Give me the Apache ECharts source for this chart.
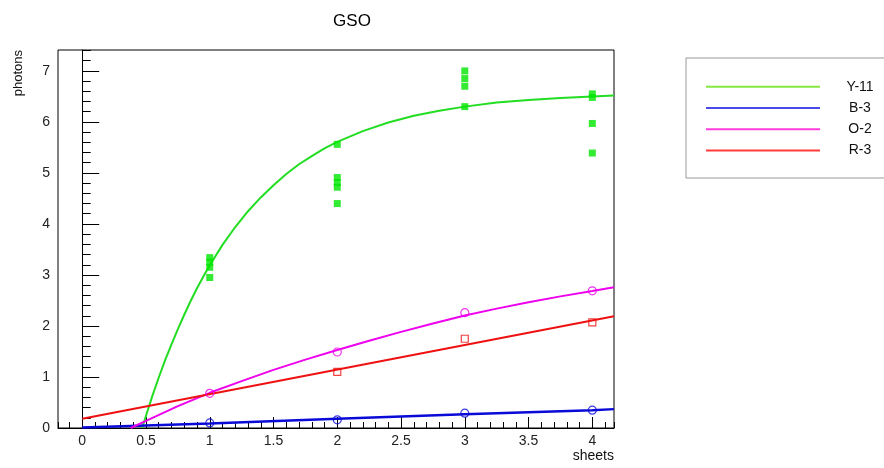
<!DOCTYPE html>
<html><head><meta charset="utf-8">
<script src="https://cdn.jsdelivr.net/npm/echarts@6/dist/echarts.min.js"></script>
<style>html,body{margin:0;padding:0;background:#fff}#c{width:884px;height:468px}</style>
</head><body><div id="c"></div>
<script>
// ---- data ----
const legendNames = ['Y-11', 'B-3', 'O-2', 'R-3'];
// fitted curves
const y11CurveX = [0.47, 0.5, 0.55, 0.6, 0.65, 0.7, 0.75, 0.8, 0.85, 0.9, 0.95, 1.0, 1.1, 1.2, 1.3, 1.4, 1.5, 1.6, 1.7, 1.8, 1.9, 2.0, 2.2, 2.4, 2.6, 2.8, 3.0, 3.25, 3.5, 3.75, 4.0, 4.17];
const y11CurveY = [0, 0.24, 0.63, 0.99, 1.33, 1.64, 1.94, 2.22, 2.49, 2.74, 2.97, 3.19, 3.59, 3.94, 4.25, 4.52, 4.76, 4.98, 5.17, 5.33, 5.48, 5.61, 5.82, 5.99, 6.12, 6.22, 6.30, 6.38, 6.43, 6.47, 6.50, 6.52];
const b3CurveX = [0, 1, 2, 3, 4, 4.17];
const b3CurveY = [0.01, 0.09, 0.18, 0.27, 0.35, 0.37];
const o2CurveX = [0.38, 0.5, 0.75, 1, 1.25, 1.5, 1.75, 2, 2.25, 2.5, 2.75, 3, 3.25, 3.5, 3.75, 4, 4.17];
const o2CurveY = [0, 0.14, 0.43, 0.69, 0.92, 1.14, 1.34, 1.53, 1.71, 1.885, 2.05, 2.205, 2.34, 2.465, 2.58, 2.685, 2.76];
const r3CurveX = [0, 4.17];
const r3CurveY = [0.18, 2.19];
// measured points
const y11PointX = [1, 1, 1, 1, 2, 2, 2, 2, 2, 3, 3, 3, 3, 4, 4, 4, 4];
const y11PointY = [3.34, 3.25, 3.15, 2.95, 5.56, 4.91, 4.81, 4.72, 4.40, 7.00, 6.85, 6.70, 6.30, 6.55, 6.48, 5.97, 5.39];
const b3PointX = [1, 2, 3, 4];
const b3PointY = [0.10, 0.16, 0.29, 0.35];
const o2PointX = [1, 2, 3, 4];
const o2PointY = [0.68, 1.49, 2.26, 2.69];
const r3PointX = [2, 3, 4];
const r3PointY = [1.10, 1.75, 2.07];

const lineColors = ['#22dd22', '#0a0ad8', '#ee00ee', '#ee1111'];
const legendColors = ['#84e840', '#4a4ae6', '#ff3cdc', '#ff3c3c'];
const FONT = 'Liberation Sans';

const zip = (xs, ys) => xs.map((x, i) => [x, ys[i]]);

const chart = echarts.init(document.getElementById('c'), null, { renderer: 'canvas' });

const curve = (name, xs, ys, color, width) => ({
  name, type: 'line', data: zip(xs, ys), showSymbol: false, symbol: 'none',
  smooth: false, color,
  lineStyle: { color, width: width || 2 }, xAxisIndex: 0, yAxisIndex: 0, z: 2, silent: true
});
const pts = (name, xs, ys, symbol, size, color, filled) => ({
  name, type: 'scatter', data: zip(xs, ys), symbol, symbolSize: size,
  itemStyle: filled ? { color } : { color: 'rgba(0,0,0,0)', borderColor: color, borderWidth: 1.2 },
  xAxisIndex: 0, yAxisIndex: 0, z: 3, silent: true
});

chart.setOption({
  animation: false,
  backgroundColor: '#fff',
  title: {
    text: 'GSO', left: 347, top: 8, textAlign: 'center',
    textStyle: { fontFamily: FONT, fontSize: 17, fontWeight: 'normal', color: '#000' }
  },
  grid: { left: 58, right: 270, top: 50, bottom: 40, show: true, borderColor: '#000', borderWidth: 1 },
  xAxis: [
    {
      type: 'value', min: -0.19, max: 4.17, splitNumber: 9, position: 'bottom',
      axisLine: { show: true, lineStyle: { color: '#000', width: 1 } },
      axisTick: { show: true, inside: true, length: 11, lineStyle: { color: '#000' } },
      axisLabel: { show: true, showMinLabel: false, showMaxLabel: false, margin: 6,
        fontFamily: FONT, fontSize: 14, color: '#222' },
      splitLine: { show: false }
    },
    {
      type: 'value', min: -0.19, max: 4.17, splitNumber: 44, position: 'bottom', offset: 0,
      axisLine: { show: false },
      axisTick: { show: true, inside: true, length: 6, lineStyle: { color: '#000' } },
      axisLabel: { show: false }, splitLine: { show: false }
    }
  ],
  yAxis: [
    {
      type: 'value', min: 0, max: 7.41, interval: 1, position: 'left',
      axisLine: { show: true, lineStyle: { color: '#000', width: 1 } },
      axisTick: { show: true, inside: true, length: 17, lineStyle: { color: '#000' } },
      axisLabel: { show: true, showMaxLabel: false, margin: 8,
        fontFamily: FONT, fontSize: 14, color: '#222' },
      splitLine: { show: false }
    },
    {
      type: 'value', min: 0, max: 7.41, interval: 0.2, position: 'left', offset: 0,
      axisLine: { show: false },
      axisTick: { show: true, inside: true, length: 8.5, lineStyle: { color: '#000' } },
      axisLabel: { show: false }, splitLine: { show: false }
    }
  ],
  legend: {
    orient: 'vertical', left: 686, top: 58,
    padding: [21.7, 12, 20.4, 20],
    itemWidth: 114, itemHeight: 2, itemGap: 7.3,
    icon: 'rect', selectedMode: false,
    borderColor: '#999', borderWidth: 1, borderRadius: 0, backgroundColor: '#fff',
    formatter: '{a|{name}}',
    textStyle: { fontFamily: FONT, fontSize: 14, color: '#111',
      rich: { a: { width: 70, align: 'center', fontFamily: FONT, fontSize: 14, color: '#111' } } },
    data: legendNames.map((n, i) => ({ name: n, icon: 'rect', itemStyle: { color: legendColors[i] } }))
  },
  graphic: [
    { type: 'text', left: 12, top: 50, rotation: Math.PI / 2,
      style: { text: 'photons', font: '13px "Liberation Sans"', fill: '#111' } },
    { type: 'text', right: 270, top: 449,
      style: { text: 'sheets', font: '14px "Liberation Sans"', fill: '#111' } }
  ],
  series: [
    curve('Y-11', y11CurveX, y11CurveY, lineColors[0], 2),
    curve('B-3', b3CurveX, b3CurveY, lineColors[1], 2.5),
    curve('O-2', o2CurveX, o2CurveY, lineColors[2], 2),
    curve('R-3', r3CurveX, r3CurveY, lineColors[3], 2),
    pts('Y-11 data', y11PointX, y11PointY, 'rect', 7, '#00e600', true),
    pts('B-3 data', b3PointX, b3PointY, 'circle', 8, '#0a0ad8', false),
    pts('O-2 data', o2PointX, o2PointY, 'circle', 8, '#ee00ee', false),
    pts('R-3 data', r3PointX, r3PointY, 'rect', 7, '#ee1111', false)
  ]
});
</script>
</body></html>
